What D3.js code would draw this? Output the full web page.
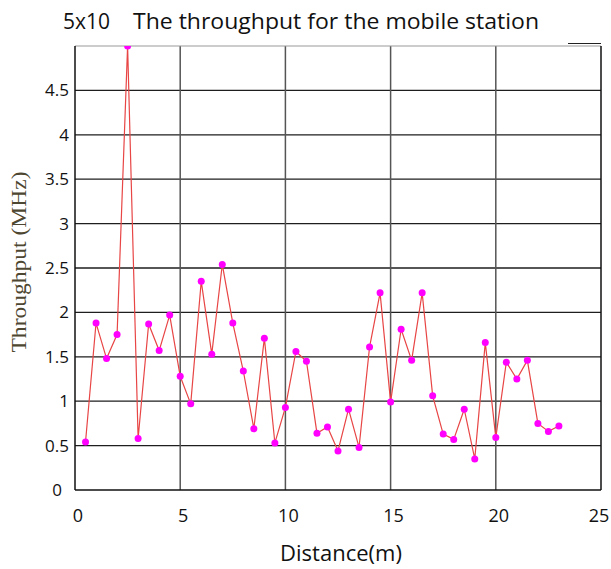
<!DOCTYPE html>
<html>
<head>
<meta charset="utf-8">
<script src="https://cdn.jsdelivr.net/npm/d3@7"></script>
<style>
  body { margin: 0; background: #fff; }
  svg { display: block; }
</style>
</head>
<body>
<svg id="chart" width="611" height="569"></svg>
<script>
// distance in metres, one sample every 0.5 m
const distance = [
  0.5, 1, 1.5, 2, 2.5, 3, 3.5, 4, 4.5, 5,
  5.5, 6, 6.5, 7, 7.5, 8, 8.5, 9, 9.5, 10,
  10.5, 11, 11.5, 12, 12.5, 13, 13.5, 14, 14.5, 15,
  15.5, 16, 16.5, 17, 17.5, 18, 18.5, 19, 19.5, 20,
  20.5, 21, 21.5, 22, 22.5, 23
];
// throughput
const throughput = [
  0.54, 1.88, 1.48, 1.75, 5.0, 0.58, 1.87, 1.57, 1.97, 1.28,
  0.97, 2.35, 1.53, 2.54, 1.88, 1.34, 0.69, 1.71, 0.53, 0.93,
  1.56, 1.45, 0.64, 0.71, 0.44, 0.91, 0.48, 1.61, 2.22, 0.99,
  1.81, 1.46, 2.22, 1.06, 0.63, 0.57, 0.91, 0.35, 1.66, 0.59,
  1.44, 1.25, 1.46, 0.75, 0.66, 0.72
];
const xTicks = [0, 5, 10, 15, 20, 25];
const yTicks = [0, 0.5, 1, 1.5, 2, 2.5, 3, 3.5, 4, 4.5];

const titleExp = "5x10";
const titleText = "The throughput for the mobile station";
const xTitle = "Distance(m)";
const yTitle = "Throughput (MHz)";

const svg = d3.select("#chart");
const mLeft = 75, mRight = 601, mTop = 46, mBottom = 490;

const x = d3.scaleLinear().domain([0, 25]).range([mLeft, mRight]);
const y = d3.scaleLinear().domain([0, 5]).range([mBottom, mTop]);

// grid: horizontal lines
svg.append("g")
  .selectAll("line")
  .data(yTicks.filter(d => d > 0))
  .join("line")
  .attr("x1", mLeft).attr("x2", mRight)
  .attr("y1", d => y(d)).attr("y2", d => y(d))
  .attr("stroke", "#1e1e1e").attr("stroke-width", 1.3);

// grid: vertical lines
svg.append("g")
  .selectAll("line")
  .data(xTicks.filter(d => d > 0 && d < 25))
  .join("line")
  .attr("x1", d => x(d)).attr("x2", d => x(d))
  .attr("y1", mTop).attr("y2", mBottom)
  .attr("stroke", "#555").attr("stroke-width", 1.5);

// frame
svg.append("line").attr("x1", mLeft).attr("x2", mRight).attr("y1", mTop).attr("y2", mTop)
  .attr("stroke", "#999").attr("stroke-width", 1.2);
svg.append("line").attr("x1", mRight).attr("x2", mRight).attr("y1", mTop).attr("y2", mBottom)
  .attr("stroke", "#111").attr("stroke-width", 1.5);
svg.append("line").attr("x1", mLeft).attr("x2", mLeft).attr("y1", mTop).attr("y2", mBottom)
  .attr("stroke", "#111").attr("stroke-width", 1.5);
svg.append("line").attr("x1", mLeft).attr("x2", mRight).attr("y1", mBottom).attr("y2", mBottom)
  .attr("stroke", "#111").attr("stroke-width", 1.5);
// little dark stub above the top right corner
svg.append("line").attr("x1", mRight - 33).attr("x2", mRight).attr("y1", mTop - 2.5).attr("y2", mTop - 2.5)
  .attr("stroke", "#222").attr("stroke-width", 1.2);

// tick labels
svg.append("g")
  .selectAll("text")
  .data(yTicks)
  .join("text")
  .attr("x", d => d === 0 ? 62 : 69)
  .attr("y", d => y(d) + 6)
  .attr("text-anchor", "end")
  .attr("font-family", "Open Sans")
  .attr("font-size", 17)
  .attr("fill", "#111")
  .text(d => d);

svg.append("g")
  .selectAll("text")
  .data(xTicks)
  .join("text")
  .attr("x", d => d === 25 ? x(d) - 2 : x(d) + 3)
  .attr("y", 522)
  .attr("text-anchor", "middle")
  .attr("font-family", "Open Sans")
  .attr("font-size", 18)
  .attr("fill", "#111")
  .text(d => d);

// data
const pts = distance.map((d, i) => [d, throughput[i]]);

svg.append("clipPath").attr("id", "plot")
  .append("rect").attr("x", mLeft).attr("y", mTop)
  .attr("width", mRight - mLeft).attr("height", mBottom - mTop);

const g = svg.append("g").attr("clip-path", "url(#plot)");

g.append("path")
  .datum(pts)
  .attr("fill", "none")
  .attr("stroke", "#e84545")
  .attr("stroke-width", 1.2)
  .attr("d", d3.line().x(d => x(d[0])).y(d => y(d[1])));

g.selectAll("circle")
  .data(pts)
  .join("circle")
  .attr("cx", d => x(d[0]))
  .attr("cy", d => y(d[1]))
  .attr("r", 3.5)
  .attr("fill", "#ff00ff");

// titles
svg.append("text")
  .attr("x", 63).attr("y", 28.5)
  .attr("font-family", "Open Sans").attr("font-size", 21)
  .attr("fill", "#111")
  .text(titleExp);
svg.append("text")
  .attr("x", 133).attr("y", 28.5)
  .attr("font-family", "Open Sans").attr("font-size", 21)
  .attr("fill", "#111")
  .attr("textLength", 406).attr("lengthAdjust", "spacingAndGlyphs")
  .text(titleText);

svg.append("text")
  .attr("x", 341).attr("y", 561)
  .attr("text-anchor", "middle")
  .attr("font-family", "Open Sans").attr("font-size", 22)
  .attr("fill", "#111")
  .text(xTitle);

svg.append("text")
  .attr("transform", "translate(26,262) rotate(-90)")
  .attr("text-anchor", "middle")
  .attr("font-family", "Liberation Serif").attr("font-size", 20)
  .attr("fill", "#4d4630")
  .attr("textLength", 181).attr("lengthAdjust", "spacingAndGlyphs")
  .text(yTitle);
</script>
</body>
</html>
